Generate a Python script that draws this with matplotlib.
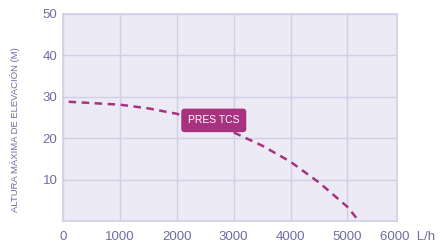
import numpy as np
import matplotlib.pyplot as plt

# data
flow = [100, 1000, 1500, 2000, 2500, 3000, 3500, 4000, 4500, 5000, 5200]
height = [28.8, 28.1, 27.2, 25.9, 24.0, 21.4, 18.2, 14.3, 9.3, 3.4, 0.0]
x_ticks = [0, 1000, 2000, 3000, 4000, 5000]
y_ticks = [10, 20, 30, 40, 50]
curve_label = "PRES TCS"

line_col = '#A8327F'
text_col = '#6E6CA3'
bg_col = '#ECEAF5'
grid_col = '#D2CEE5'

plt.rcParams['font.family'] = ['Liberation Sans Narrow', 'Liberation Sans', 'DejaVu Sans']

fig = plt.figure(figsize=(4.42, 2.46), dpi=100)
ax = fig.add_axes([63/442, 1 - 221/246, (397 - 63)/442, (221 - 14)/246])
ax.set_facecolor(bg_col)

ax.plot(flow, height, color=line_col, lw=1.8, ls=(0, (3.0, 2.2)))
ax.text(2650, 24.3, curve_label, color='white', fontsize=7.5, ha='center', va='center',
        family=['Liberation Sans', 'DejaVu Sans'],
        bbox=dict(boxstyle='round,pad=0.65,rounding_size=0.3', fc=line_col, ec='none'))

ax.set_xlim(0, 5870)
ax.set_ylim(0, 50)
ax.set_xticks(x_ticks)
ax.set_yticks(y_ticks)
ax.set_xticklabels(['0', '1000', '2000', '3000', '4000', '5000'])
ax.grid(True, color=grid_col, lw=1)
ax.set_axisbelow(True)
ax.tick_params(length=0, colors=text_col, labelsize=9.5, pad=7)
ax.tick_params(axis='y', pad=4)
for s in ax.spines.values():
    s.set_color(grid_col)
    s.set_linewidth(1.2)

ax.annotate('6000  L/h', xy=(6060, 0), xytext=(0, -7), textcoords='offset points',
            color=text_col, fontsize=9.5, ha='center', va='top', annotation_clip=False)
ax.set_ylabel('ALTURA MÁXIMA DE ELEVACIÓN (M)', color=text_col, fontsize=6.8)
ax.yaxis.set_label_coords(-0.13, 0.44)

fig.savefig('out.png', dpi=100, facecolor='white')
